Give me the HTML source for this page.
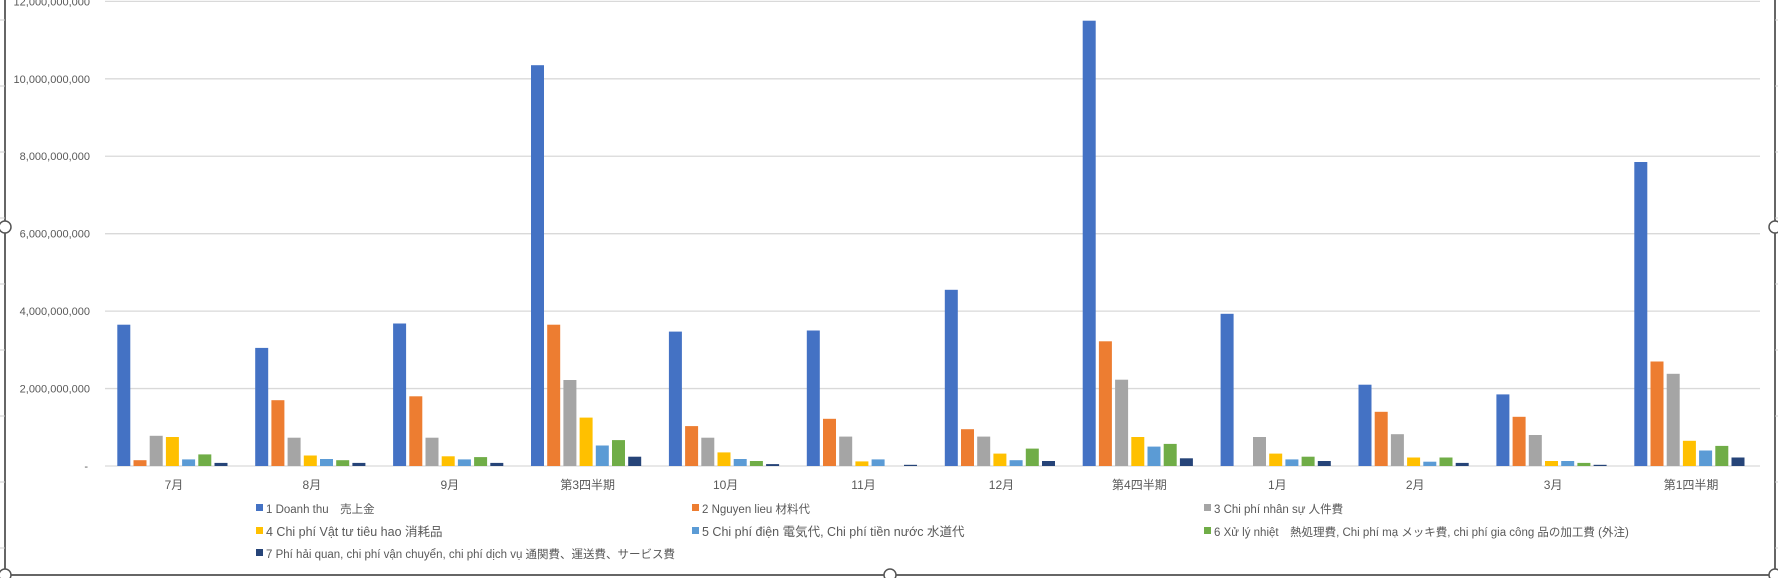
<!DOCTYPE html>
<html><head><meta charset="utf-8"><style>
html,body{margin:0;padding:0;background:#fff;}
svg{display:block;font-family:"Liberation Sans","Noto Sans CJK JP",sans-serif;}
</style></head><body>
<svg id="c" width="1778" height="578" viewBox="0 0 1778 578" xmlns="http://www.w3.org/2000/svg"></svg>
<script>
const s=document.getElementById('c');
let h='';
const y0=466, k=38.72;
h+='<rect x="5" y="-5" width="1770" height="580" fill="none" stroke="#666" stroke-width="2"/>';
for(let i=0;i<9;i++){h+=`<line x1="0" y1="${20+i*66}" x2="5" y2="${20+i*66}" stroke="#ccc"/>`;h+=`<line x1="1775" y1="${20+i*66}" x2="1778" y2="${20+i*66}" stroke="#ccc"/>`;}
for(let i=0;i<=6;i++){const y=y0-i*2*k;h+=`<line x1="105" y1="${y}" x2="1760" y2="${y}" stroke="#d9d9d9" stroke-width="1.3"/>`;
const lab=i==0?'-':(i*2).toLocaleString('en-US')+',000,000,000';
h+=`<text x="${i==0?88:90}" y="${y+4}" text-anchor="end" font-size="11" fill="#595959">${lab}</text>`;}
const cats=['7月','8月','9月','第3四半期','10月','11月','12月','第4四半期','1月','2月','3月','第1四半期'];
const cols=['#4472c4','#ed7d31','#a5a5a5','#ffc000','#5b9bd5','#70ad47','#264478'];
const d=[[3.65,.15,.78,.75,.17,.3,.08],[3.05,1.7,.73,.27,.18,.15,.08],[3.68,1.8,.73,.25,.17,.23,.08],[10.35,3.65,2.22,1.25,.53,.67,.24],[3.47,1.03,.73,.35,.18,.13,.05],[3.5,1.22,.76,.12,.17,0,.03],[4.55,.95,.76,.32,.15,.45,.13],[11.5,3.22,2.23,.75,.5,.57,.2],[3.93,0,.75,.32,.17,.24,.13],[2.1,1.4,.82,.22,.11,.22,.08],[1.85,1.27,.8,.13,.13,.08,.03],[7.85,2.7,2.38,.65,.4,.52,.22]];
const gw=1655/12;
cats.forEach((c,g)=>{const cx=105+gw*(g+.5);
 d[g].forEach((v,j)=>{const x=cx-56.7+j*16.2;const ht=v*k;h+=`<rect x="${x.toFixed(1)}" y="${(y0-ht).toFixed(1)}" width="13" height="${ht.toFixed(1)}" fill="${cols[j]}"/>`;});
 h+=`<text x="${cx}" y="489" text-anchor="middle" font-size="12" fill="#595959">${c}</text>`;});
const leg=[[256,513,'1 Doanh thu　売上金',11.5],[692,513,'2 Nguyen lieu 材料代',11.5],[1204,513,'3 Chi phí nhân sự 人件費',11.5],
[256,536,'4 Chi phí Vật tư tiêu hao 消耗品',12.5],[692,536,'5 Chi phí điện 電気代, Chi phí tiền nước 水道代',12.5],[1204,536,'6 Xử lý nhiệt　熱処理費, Chi phí mạ メッキ費, chi phí gia công 品の加工費 (外注)',11.5],
[256,558,'7 Phí hải quan, chi phí vận chuyển, chi phí dịch vụ 通関費、運送費、サービス費',11.5]];
leg.forEach((l,i)=>{h+=`<rect x="${l[0]}" y="${l[1]-9}" width="7" height="7" fill="${cols[i]}"/>`;h+=`<text x="${l[0]+10}" y="${l[1]}" font-size="${l[3]}" fill="#595959">${l[2]}</text>`;});
[[5,227],[5,575],[890,575],[1775,227],[1775,575]].forEach(p=>{h+=`<circle cx="${p[0]}" cy="${p[1]}" r="6" fill="#fff" stroke="#555" stroke-width="1.5"/>`;});
s.innerHTML=h;
</script>
</body></html>
